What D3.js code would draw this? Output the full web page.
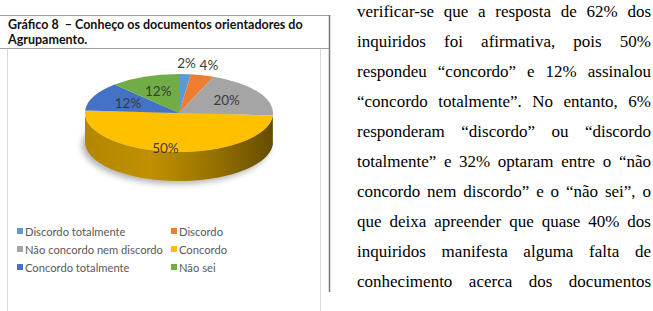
<!DOCTYPE html>
<html>
<head>
<meta charset="utf-8">
<script src="https://cdn.jsdelivr.net/npm/d3@7"></script>
<style>
  body { margin: 0; background: #fff; width: 653px; height: 311px; overflow: hidden; position: relative; }
  #chart { position: absolute; left: 0; top: 0; }
  #para { position: absolute; left: 357px; top: -3px; width: 294px;
          font-family: "Liberation Serif", "Times New Roman", serif; font-size: 17px; color: #000; }
  #para div { height: 30px; line-height: 30px; text-align: justify; text-align-last: justify; }
</style>
</head>
<body>
<div id="chart"></div>
<div id="para"></div>
<script>
// data
const categories = ["Discordo totalmente", "Discordo", "Não concordo nem discordo", "Concordo", "Concordo totalmente", "Não sei"];
const values = [2, 4, 20, 50, 12, 12];
const colors = ["#5B9BD5", "#ED7D31", "#A5A5A5", "#FFC000", "#4472C4", "#70AD47"];
const titleLines = ["Gráfico 8  – Conheço os documentos orientadores do", "Agrupamento."];
const paraLines = [
  "verificar-se que a resposta de 62% dos",
  "inquiridos foi afirmativa, pois 50%",
  "respondeu “concordo” e 12% assinalou",
  "“concordo totalmente”. No entanto, 6%",
  "responderam “discordo” ou “discordo",
  "totalmente” e 32% optaram entre o “não",
  "concordo nem discordo” e o “não sei”, o",
  "que deixa apreender que quase 40% dos",
  "inquiridos manifesta alguma falta de",
  "conhecimento acerca dos documentos"
];

// config
const width = 653, height = 311;
const pieCfg = { cx: 179, cy: 113, rx: 94, ry: 39, depth: 29 };

const svg = d3.select("#chart").append("svg")
  .attr("width", width).attr("height", height);

const defs = svg.append("defs");

// frame
svg.append("rect")
  .attr("x", 7.5).attr("y", 48.5).attr("width", 313).attr("height", 280)
  .attr("fill", "#fff").attr("stroke", "#dcdcdc");
svg.append("line").attr("x1", 0).attr("x2", 330).attr("y1", 15.5).attr("y2", 15.5)
  .attr("stroke", "#a0a0a0");
svg.append("line").attr("x1", 0).attr("x2", 330).attr("y1", 48.5).attr("y2", 48.5)
  .attr("stroke", "#a0a0a0");
svg.append("line").attr("x1", 329.5).attr("x2", 329.5).attr("y1", 15).attr("y2", 292)
  .attr("stroke", "#7a7a7a").attr("stroke-width", 1.5);

// title
svg.append("g").selectAll("text")
  .data(titleLines).join("text")
  .attr("x", 8).attr("y", (d, i) => 29 + i * 15)
  .attr("font-family", "Lato, sans-serif").attr("font-weight", "bold")
  .attr("font-size", 12.5).attr("fill", "#111")
  .style("white-space", "pre")
  .text(d => d);

// pie
const pie = d3.pie().sort(null).value(d => d.value);
const arcs = pie(categories.map((c, i) => ({ name: c, value: values[i], color: colors[i] })));

const { cx, cy, rx, ry, depth } = pieCfg;
const pt = (a, dy) => [cx + rx * Math.sin(a), cy - ry * Math.cos(a) + dy];

// shadow
const blur = defs.append("filter").attr("id", "blur").attr("x", "-20%").attr("y", "-20%")
  .attr("width", "140%").attr("height", "140%");
blur.append("feGaussianBlur").attr("stdDeviation", 3);
svg.append("ellipse")
  .attr("cx", cx - 3).attr("cy", cy + depth + 3).attr("rx", rx).attr("ry", ry)
  .attr("fill", "#000").attr("opacity", 0.3).attr("filter", "url(#blur)");

// side walls (front half only)
const sideLine = d3.line();
arcs.forEach((d, i) => {
  const s = Math.max(d.startAngle, Math.PI / 2);
  const e = Math.min(d.endAngle, 3 * Math.PI / 2);
  if (e <= s) return;
  const gid = "side" + i;
  const base = d3.color(d.data.color);
  const grad = defs.append("linearGradient").attr("id", gid)
    .attr("gradientUnits", "userSpaceOnUse")
    .attr("x1", cx - rx).attr("x2", cx + rx).attr("y1", 0).attr("y2", 0);
  [[0, 1.0], [0.35, 0.8], [0.7, 1.5], [1, 2.6]].forEach(([o, k]) => {
    grad.append("stop").attr("offset", o).attr("stop-color", base.darker(k).formatHex());
  });
  const steps = d3.range(0, 41).map(t => s + (e - s) * t / 40);
  const pts = steps.map(a => pt(a, 0)).concat(steps.slice().reverse().map(a => pt(a, depth)));
  svg.append("path")
    .attr("d", sideLine(pts) + "Z")
    .attr("fill", `url(#${gid})`);
});

// top face
const arcGen = d3.arc().innerRadius(0).outerRadius(rx);
svg.append("g")
  .attr("transform", `translate(${cx},${cy}) scale(1,${ry / rx})`)
  .selectAll("path.slice")
  .data(arcs).join("path")
  .attr("class", "slice")
  .attr("d", arcGen)
  .attr("fill", d => d.data.color);

// labels
svg.append("g").selectAll("text")
  .data(arcs).join("text")
  .each(function (d) {
    const mid = (d.startAngle + d.endAngle) / 2;
    const f = d.value < 5 ? 1.28 : 0.6;
    let [x, y] = pt(mid, 0);
    x = cx + (x - cx) * f - (d.value >= 40 ? 10 : 0);
    y = cy + (y - cy) * f + depth * 0.4 * Math.max(0, -Math.cos(mid));
    d3.select(this).attr("x", x).attr("y", y);
  })
  .attr("text-anchor", "middle").attr("dominant-baseline", "central")
  .attr("font-family", "Lato, sans-serif").attr("font-size", 13.5).attr("fill", "#3a3a3a")
  .text(d => d.value + "%");

// legend
const legend = svg.append("g").selectAll("g")
  .data(categories).join("g")
  .attr("transform", (d, i) => `translate(${i % 2 ? 171 : 17},${231 + Math.floor(i / 2) * 18})`);
legend.append("rect").attr("x", 0).attr("y", -3).attr("width", 6).attr("height", 6)
  .attr("fill", (d, i) => colors[i]);
legend.append("text").attr("x", 8).attr("y", 0).attr("dominant-baseline", "central")
  .attr("font-family", "Lato, sans-serif").attr("font-size", 11.2).attr("fill", "#595959")
  .text(d => d);

// paragraph
d3.select("#para").selectAll("div")
  .data(paraLines).join("div")
  .text(d => d);
</script>
</body>
</html>
